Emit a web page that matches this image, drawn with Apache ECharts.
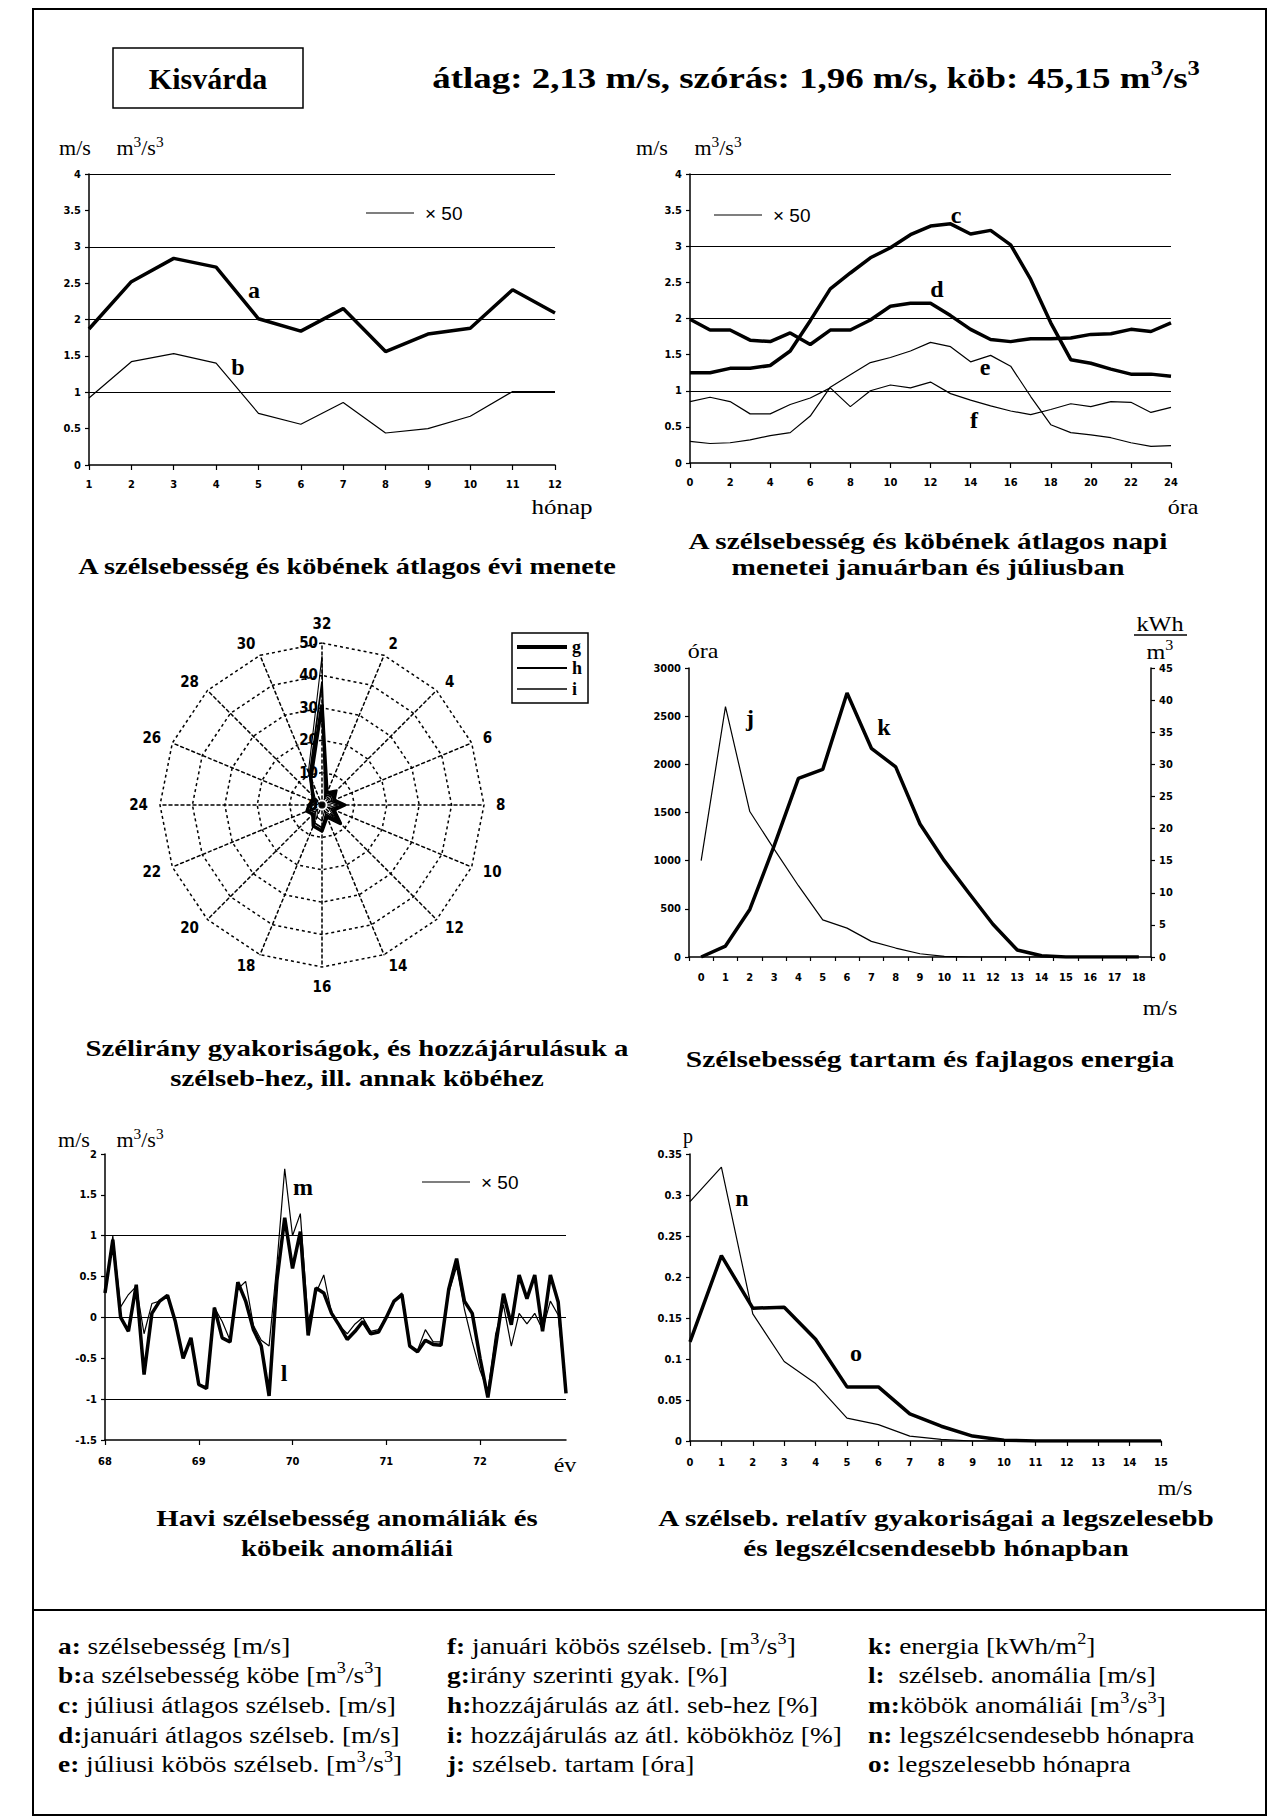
<!DOCTYPE html>
<html><head><meta charset="utf-8">
<script src="https://cdn.jsdelivr.net/npm/echarts@6/dist/echarts.min.js"></script>
<style>html,body{margin:0;padding:0;background:#fff}#c{width:1281px;height:1820px}</style>
</head><body><div id="c"></div>
<script>
// ---------------- DATA ----------------
const months = ['1','2','3','4','5','6','7','8','9','10','11','12'];
const speedA = [1.87, 2.52, 2.84, 2.72, 2.01, 1.84, 2.15, 1.56, 1.80, 1.88, 2.41, 2.09];
const cubeB  = [0.92, 1.42, 1.53, 1.40, 0.71, 0.56, 0.86, 0.44, 0.50, 0.67, 1.01, 1.01];

const hours = ['0','1','2','3','4','5','6','7','8','9','10','11','12','13','14','15','16','17','18','19','20','21','22','23','24'];
const julySpeedC = [1.25,1.25,1.31,1.31,1.35,1.55,1.97,2.41,2.63,2.84,2.98,3.16,3.28,3.31,3.17,3.22,3.02,2.54,1.94,1.43,1.38,1.30,1.23,1.23,1.20];
const janSpeedD  = [1.99,1.84,1.84,1.70,1.68,1.80,1.64,1.84,1.84,1.98,2.17,2.21,2.21,2.04,1.85,1.71,1.68,1.72,1.72,1.73,1.78,1.79,1.85,1.82,1.94];
const julyCubeE  = [0.30,0.27,0.28,0.32,0.38,0.42,0.65,1.05,1.22,1.39,1.46,1.55,1.67,1.61,1.40,1.49,1.34,0.92,0.53,0.42,0.39,0.35,0.28,0.23,0.24];
const janCubeF   = [0.85,0.91,0.85,0.68,0.68,0.81,0.90,1.04,0.78,1.00,1.08,1.04,1.12,0.96,0.87,0.79,0.72,0.67,0.74,0.82,0.78,0.85,0.84,0.70,0.77];

const directions    = ['32','2','4','6','8','10','12','14','16','18','20','22','24','26','28','30'];
const dirFreqG      = [31, 4, 6, 4, 7, 4, 8, 4, 8, 7, 4, 5, 4, 3, 4, 9];
const speedContribH = [38, 3, 5, 3, 6, 3, 7, 3, 7, 6, 3, 4, 3, 2, 4, 10];
const cubeContribI  = [46, 2, 4, 2, 5, 2, 6, 2, 5, 4, 2, 3, 2, 1, 3, 11];
const radarTicks    = [0, 50, 10];

const speedBins = ['0','1','2','3','4','5','6','7','8','9','10','11','12','13','14','15','16','17','18'];
const durationJ = [1000, 2600, 1510, 1120, 740, 385, 300, 162, 93, 34, 7, 0, 0, 0, 0, 0, 0, 0, 0];
const energyK   = [0, 1.7, 7.4, 17.3, 27.8, 29.2, 41.1, 32.5, 29.6, 20.7, 15.0, 10.0, 5.1, 1.1, 0.2, 0, 0, 0, 0];

const years = ['68','69','70','71','72'];
const anomalyL = [0.3, 0.95, 0.0, -0.17, 0.4, -0.7, 0.05, 0.2, 0.27, -0.05,
  -0.5, -0.25, -0.82, -0.87, 0.12, -0.25, -0.3, 0.43, 0.2, -0.15,
  -0.35, -0.96, 0.45, 1.22, 0.6, 1.05, -0.22, 0.36, 0.3, 0.05,
  -0.1, -0.27, -0.17, -0.05, -0.2, -0.18, 0.0, 0.2, 0.28, -0.35,
  -0.42, -0.28, -0.33, -0.34, 0.35, 0.72, 0.2, 0.05, -0.5, -0.98,
  -0.35, 0.29, -0.09, 0.52, 0.23, 0.52, -0.17, 0.52, 0.19, -0.93];
const anomalyM = [0.3, 1.0, 0.13, 0.28, 0.38, -0.2, 0.17, 0.2, 0.25, -0.05,
  -0.47, -0.28, -0.82, -0.85, 0.12, -0.05, -0.28, 0.35, 0.44, -0.1,
  -0.28, -0.35, 0.65, 1.82, 1.0, 1.27, -0.05, 0.3, 0.52, 0.05,
  -0.1, -0.2, -0.08, 0.0, -0.17, -0.15, 0.0, 0.2, 0.3, -0.35,
  -0.4, -0.15, -0.3, -0.3, 0.3, 0.62, 0.1, -0.3, -0.65, -0.9,
  -0.2, 0.15, -0.35, 0.05, -0.08, 0.05, -0.15, 0.2, 0.03, -0.9];

const probBins = ['0','1','2','3','4','5','6','7','8','9','10','11','12','13','14','15'];
const calmestN  = [0.292, 0.334, 0.155, 0.097, 0.070, 0.028, 0.020, 0.006, 0.002, 0, 0, 0, 0, 0, 0, 0];
const windiestO = [0.121, 0.226, 0.162, 0.163, 0.124, 0.066, 0.066, 0.033, 0.018, 0.006, 0.001, 0, 0, 0, 0, 0];

const refLinesTop = [1, 2, 3, 4];
const refLinesAnom = [1, 0, -1];

// ---------------- STYLE HELPERS ----------------
const SERIF = '"Liberation Serif","Times New Roman",serif';
const SANS = '"Liberation Sans",Arial,sans-serif';
const NARROW = '"Liberation Sans Narrow","DejaVu Sans Condensed","Liberation Sans",sans-serif';
const tickFont = {color:'#000', fontFamily:NARROW, fontSize:11, fontWeight:'bold'};
const axLine = {show:true, onZero:false, lineStyle:{color:'#000', width:1.5}};
const axTick = {show:true, length:4, lineStyle:{color:'#000', width:1.2}};

function xCat(gi, data, label, tick, rest) {
  return Object.assign({type:'category', gridIndex:gi, data:data, boundaryGap:false,
    axisLine:axLine, axisTick:Object.assign({}, axTick, tick||{}),
    axisLabel:Object.assign({}, tickFont, {margin:14}, label||{}),
    splitLine:{show:false}}, rest||{});
}
function yVal(gi, min, max, interval, rest) {
  return Object.assign({type:'value', gridIndex:gi, min:min, max:max, interval:interval,
    axisLine:axLine, axisTick:axTick,
    axisLabel:Object.assign({}, tickFont, {margin:8, formatter:v => String(+v.toFixed(2))}),
    splitLine:{show:false}}, rest||{});
}
function refLines(vals) {
  return {silent:true, symbol:'none', label:{show:false}, emphasis:{disabled:true},
    lineStyle:{color:'#000', type:'solid', width:1.2}, data:vals.map(v => ({yAxis:v}))};
}
function ln(name, xi, yi, data, w, extra) {
  return Object.assign({type:'line', name:name, xAxisIndex:xi, yAxisIndex:yi, data:data,
    symbol:'none', showSymbol:false, lineStyle:{color:'#000', width:w}, itemStyle:{color:'#000'},
    emphasis:{disabled:true}, z:3}, extra||{});
}
// text with big superscripts (rich tokens) and optional horizontal stretch
function T(x, y, text, size, weight, align, sx, extraRich) {
  const rich = Object.assign({
    s:{fontSize:Math.round(size*0.68), fontFamily:SERIF, fontWeight:weight||'normal', verticalAlign:'top', lineHeight:Math.round(size*1.3), fill:'#000'}
  }, extraRich||{});
  const t = text.replace(/³/g, '{s|3}').replace(/²/g, '{s|2}');
  return {type:'text', x:x, y:y, z:10, scaleX:sx||1, style:{text:t, fill:'#000', fontFamily:SERIF,
    fontSize:size, fontWeight:weight||'normal', lineHeight:Math.round(size*1.3),
    align:align||'center', verticalAlign:'middle', rich:rich}};
}
function L(x1, y1, x2, y2, w) {
  return {type:'line', z:10, shape:{x1:x1, y1:y1, x2:x2, y2:y2}, style:{stroke:'#000', lineWidth:w||1.2}};
}
function X50(x1, y) {
  return [L(x1, y, x1 + 48, y), {type:'text', x:x1 + 59, y:y, z:10,
    style:{text:'× 50', fill:'#000', fontFamily:SANS, fontSize:19, align:'left', verticalAlign:'middle'}}];
}

// radar order: ECharts lays indicators counter-clockwise, compass labels go clockwise
const radarOrder = [0].concat(directions.map((d, i) => i).slice(1).reverse());
const reorder = arr => radarOrder.map(i => arr[i]);

// anomaly month categories
const monthCats = [];
years.forEach(y => months.forEach(m => monthCats.push(y + '-' + m)));

// ---------------- GRAPHIC TEXT ----------------
const CAP = 24, CAPX = 1.2, UNIT = 20;
const G = [
  {type:'rect', z:10, shape:{x:33, y:9, width:1233, height:1806}, style:{fill:'none', stroke:'#000', lineWidth:2}},
  L(33, 1610, 1266, 1610, 2),
  {type:'rect', z:10, shape:{x:113, y:48, width:190, height:60}, style:{fill:'none', stroke:'#000', lineWidth:1.5}},
  T(208, 78, 'Kisvárda', 30, 'bold'),
  T(816, 78, 'átlag: 2,13 m/s, szórás: 1,96 m/s, köb: 45,15 m³/s³', 30, 'bold', 'center', 1.23),
  // chart 1
  T(75, 148, 'm/s', UNIT, 'normal', 'center', 1.1), T(140, 148, 'm³/s³', UNIT, 'normal', 'center', 1.1),
  ...X50(366, 213),
  T(562, 507, 'hónap', UNIT, 'normal', 'center', 1.25),
  T(254, 290, 'a', 24, 'bold'), T(238, 367, 'b', 24, 'bold'),
  T(347, 566, 'A szélsebesség és köbének átlagos évi menete', CAP, 'bold', 'center', 1.18),
  // chart 2
  T(652, 148, 'm/s', UNIT, 'normal', 'center', 1.1), T(718, 148, 'm³/s³', UNIT, 'normal', 'center', 1.1),
  ...X50(714, 215),
  T(1183, 507, 'óra', UNIT, 'normal', 'center', 1.2),
  T(956, 215, 'c', 24, 'bold'), T(937, 289, 'd', 24, 'bold'), T(985, 367, 'e', 24, 'bold'), T(974, 420, 'f', 24, 'bold'),
  T(928, 541, 'A szélsebesség és köbének átlagos napi', CAP, 'bold', 'center', 1.22),
  T(928, 567, 'menetei januárban és júliusban', CAP, 'bold', 'center', 1.22),
  // chart 3
  T(357, 1048, 'Szélirány gyakoriságok, és hozzájárulásuk a', CAP, 'bold', 'center', CAPX),
  T(357, 1078, 'szélseb-hez, ill. annak köbéhez', CAP, 'bold', 'center', CAPX),
  // chart 4
  T(703, 651, 'óra', UNIT, 'normal', 'center', 1.2),
  T(1160, 624, 'kWh', 21, 'normal', 'center', 1.15), L(1134, 635, 1187, 635, 1.5), T(1160, 652, 'm³', 21, 'normal', 'center', 1.15),
  T(1160, 1008, 'm/s', UNIT, 'normal', 'center', 1.2),
  T(750, 718, 'j', 24, 'bold'), T(884, 727, 'k', 24, 'bold'),
  T(930, 1059, 'Szélsebesség tartam és fajlagos energia', CAP, 'bold', 'center', 1.23),
  // chart 5
  T(74, 1140, 'm/s', UNIT, 'normal', 'center', 1.1), T(140, 1140, 'm³/s³', UNIT, 'normal', 'center', 1.1),
  ...X50(422, 1182),
  T(565, 1465, 'év', UNIT, 'normal', 'center', 1.2),
  T(303, 1187, 'm', 24, 'bold'), T(284, 1373, 'l', 24, 'bold'),
  T(347, 1518, 'Havi szélsebesség anomáliák és', CAP, 'bold', 'center', CAPX),
  T(347, 1548, 'köbeik anomáliái', CAP, 'bold', 'center', CAPX),
  // chart 6
  T(688, 1136, 'p', UNIT),
  T(1175, 1488, 'm/s', UNIT, 'normal', 'center', 1.2),
  T(742, 1198, 'n', 24, 'bold'), T(856, 1353, 'o', 24, 'bold'),
  T(936, 1518, 'A szélseb. relatív gyakoriságai a legszelesebb', CAP, 'bold', 'center', 1.22),
  T(936, 1548, 'és legszélcsendesebb hónapban', CAP, 'bold', 'center', 1.22)
];

const legendCols = [
  ['{b|a:} szélsebesség [m/s]', '{b|b:}a szélsebesség köbe [m³/s³]', '{b|c:} júliusi átlagos szélseb. [m/s]', '{b|d:}januári átlagos szélseb. [m/s]', '{b|e:} júliusi köbös szélseb. [m³/s³]'],
  ['{b|f:} januári köbös szélseb. [m³/s³]', '{b|g:}irány szerinti gyak. [%]', '{b|h:}hozzájárulás az átl. seb-hez [%]', '{b|i:} hozzájárulás az átl. köbökhöz [%]', '{b|j:} szélseb. tartam [óra]'],
  ['{b|k:} energia [kWh/m²]', '{b|l:}  szélseb. anomália [m/s]', '{b|m:}köbök anomáliái [m³/s³]', '{b|n:} legszélcsendesebb hónapra', '{b|o:} legszelesebb hónapra']
];
const legendX = [58, 447, 868];
const legendY = [1646, 1675, 1705, 1735, 1764];
legendCols.forEach((col, ci) => col.forEach((t, ri) => {
  G.push(T(legendX[ci], legendY[ri], t, 24, 'normal', 'left', 1.14,
    {b:{fontWeight:'bold', fontFamily:SERIF, fontSize:24, lineHeight:31, fill:'#000'}}));
}));

// ---------------- OPTION ----------------
const option = {
  animation:false,
  backgroundColor:'#fff',
  grid:[
    {left:89, top:174, width:466, height:291},
    {left:690, top:174, width:481, height:289},
    {left:689, top:668, width:462, height:289},
    {left:105, top:1154, width:461, height:286},
    {left:690, top:1154, width:471, height:287}
  ],
  xAxis:[
    xCat(0, months, {}, {length:5}),
    xCat(1, hours, {interval:1}, {interval:1, length:5}),
    xCat(2, speedBins, {interval:0, margin:15}, {length:4}, {boundaryGap:true}),
    xCat(3, monthCats, {interval:11, margin:16, formatter:(v, i) => (i % 12 === 0 ? years[i / 12] : '')}, {interval:11, length:5}),
    xCat(4, probBins, {interval:0, margin:16}, {length:5})
  ],
  yAxis:[
    yVal(0, 0, 4, 0.5),
    yVal(1, 0, 4, 0.5),
    yVal(2, 0, 3000, 500),
    yVal(2, 0, 45, 5, {position:'right'}),
    yVal(3, -1.5, 2, 0.5),
    yVal(4, 0, 0.35, 0.05)
  ],
  radar:{
    center:[322, 805], radius:162, startAngle:90, splitNumber:5, shape:'polygon',
    indicator: reorder(directions).map((d, i) => i === 0
      ? {name:d, min:radarTicks[0], max:radarTicks[1], axisLabel:{show:true}}
      : {name:d, min:radarTicks[0], max:radarTicks[1]}),
    axisName:{color:'#000', fontFamily:NARROW, fontSize:15, fontWeight:'bold'},
    nameGap:12,
    axisLine:{lineStyle:{color:'#000', type:[3,3], width:1.5}},
    splitLine:{lineStyle:{color:'#000', type:[3,3], width:1.5}},
    splitArea:{show:false},
    axisTick:{show:false},
    axisLabel:{show:false, color:'#000', fontFamily:NARROW, fontSize:15, fontWeight:'bold', margin:4}
  },
  legend:{
    left:512, top:633, orient:'vertical', selectedMode:false,
    data:[
      {name:'g', icon:'path://M0,0H60V5H0Z'},
      {name:'h', icon:'path://M0,0H60V2.6H0Z'},
      {name:'i', icon:'path://M0,0H60V1.6H0Z'}
    ],
    itemWidth:50, itemHeight:16, itemGap:3, padding:[5,6,5,5],
    borderColor:'#000', borderWidth:1.5,
    textStyle:{color:'#000', fontFamily:SERIF, fontWeight:'bold', fontSize:18}
  },
  graphic:G,
  series:[
    ln('a', 0, 0, speedA, 3.5, {markLine:refLines(refLinesTop)}),
    ln('b', 0, 0, cubeB, 1.2),
    ln('c', 1, 1, julySpeedC, 3.5, {markLine:refLines(refLinesTop)}),
    ln('d', 1, 1, janSpeedD, 3.5),
    ln('e', 1, 1, julyCubeE, 1.2),
    ln('f', 1, 1, janCubeF, 1.2),
    ln('j', 2, 2, durationJ, 1.2),
    ln('k', 2, 3, energyK, 3.5),
    ln('l', 3, 4, anomalyL, 3.5, {markLine:refLines(refLinesAnom)}),
    ln('m', 3, 4, anomalyM, 1.2),
    ln('n', 4, 5, calmestN, 1.2),
    ln('o', 4, 5, windiestO, 3.5),
    {type:'radar', name:'g', symbol:'none', lineStyle:{color:'#000', width:3.5}, itemStyle:{color:'#000'}, z:4,
      data:[{name:'g', value:reorder(dirFreqG)}]},
    {type:'radar', name:'h', symbol:'none', lineStyle:{color:'#000', width:1.8}, itemStyle:{color:'#000'}, z:4,
      data:[{name:'h', value:reorder(speedContribH)}]},
    {type:'radar', name:'i', symbol:'none', lineStyle:{color:'#000', width:1.1}, itemStyle:{color:'#000'}, z:4,
      data:[{name:'i', value:reorder(cubeContribI)}]}
  ]
};
const chart = echarts.init(document.getElementById('c'), null, {renderer:'svg', width:1281, height:1820});
chart.setOption(option);
</script>
</body></html>
